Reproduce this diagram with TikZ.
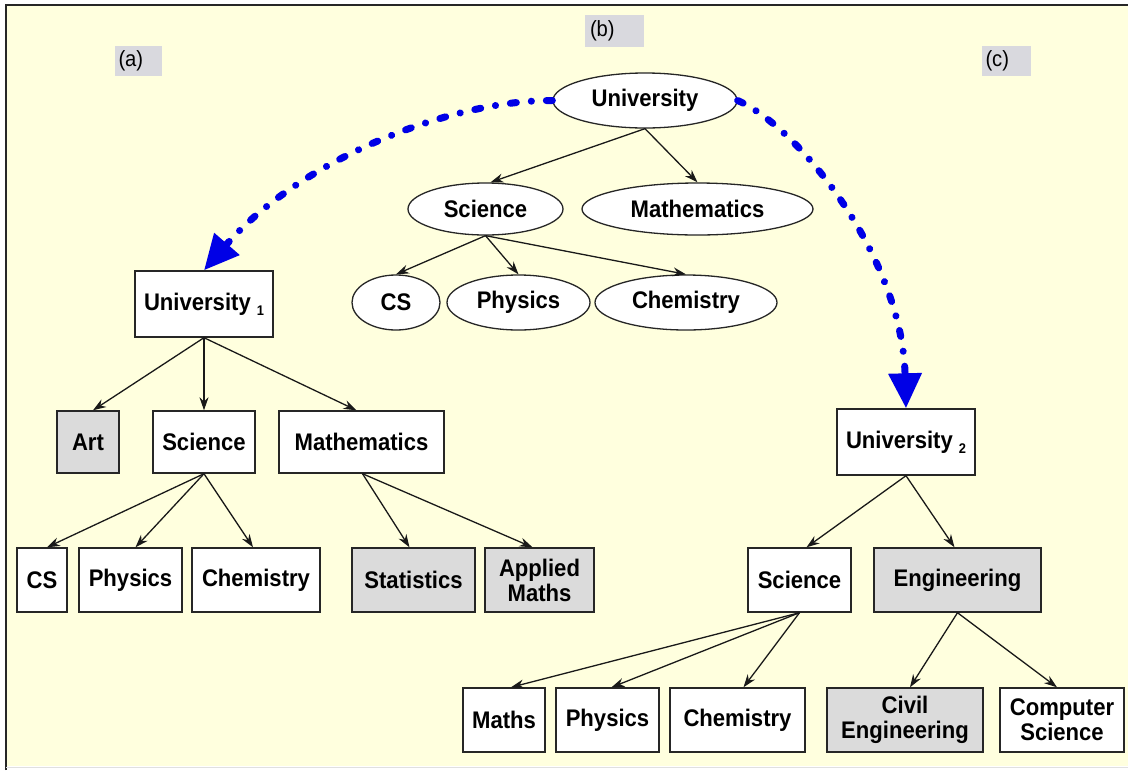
\documentclass[tikz,border=0pt]{standalone}
\usepackage{fontspec}
\setmainfont{Liberation Sans}[FakeStretch=0.92]
\usetikzlibrary{arrows.meta,shapes.geometric}
\definecolor{bgyellow}{RGB}{255,255,222}
\definecolor{shade}{RGB}{219,219,219}
\definecolor{lblgray}{RGB}{217,217,222}
\definecolor{arcblue}{RGB}{0,0,230}
\newcommand{\subidx}[1]{\hspace{6pt}\raisebox{-5pt}{\fontsize{14}{14}\selectfont #1}}
\tikzset{
  every node/.style={font=\fontsize{24}{25}\selectfont\bfseries},
  boxnode/.style={draw=black!85, line width=1.4pt, fill=white, inner sep=0pt, align=center},
  graybox/.style={boxnode, fill=shade},
  ellnode/.style={ellipse, draw=black!85, line width=1.3pt, fill=white, inner sep=0pt},
  lbl/.style={fill=lblgray, inner sep=0pt, font=\fontsize{22}{24}\selectfont, align=left},
  tree/.style={line width=1.3pt, draw=black!90, -{Stealth[length=13pt,width=9pt]}},
  bluearc/.style={draw=arcblue, line width=7pt, line cap=round,
    dash pattern=on 6pt off 15pt on 0.1pt off 15pt,
    -{Triangle[length=35pt,width=32pt]}}
}
\begin{document}
\begin{tikzpicture}[x=1pt,y=-1pt]
\useasboundingbox (0,0) rectangle (1128,772);
\fill[white] (0,0) rectangle (1128,772);
\fill[bgyellow] (6,5) rectangle (1128,766);
\draw[black!85, line width=2pt] (6,770) -- (6,5) -- (1128,5);
\draw[black!12, line width=1pt] (6,767) -- (1128,767);

% labels
\node[lbl, minimum width=59pt, minimum height=32pt, text width=49pt] (lb) at (614.5,31) {(b)};
\node[lbl, minimum width=47pt, minimum height=30pt, text width=40pt] (la) at (138.5,61) {(a)};
\node[lbl, minimum width=49pt, minimum height=30pt, text width=42pt] (lc) at (1006.5,61) {(c)};

% tree (b)
\node[ellnode, minimum width=184pt, minimum height=55pt] (bu) at (645,100.5) {University};
\node[ellnode, minimum width=155pt, minimum height=52pt] (bs) at (485.5,209) {Science};
\node[ellnode, minimum width=231pt, minimum height=52pt] (bm) at (697.5,209) {Mathematics};
\node[ellnode, minimum width=88pt, minimum height=55pt] (bcs) at (396,302.5) {CS};
\node[ellnode, minimum width=143pt, minimum height=55pt] (bph) at (518.5,302.5) {Physics};
\node[ellnode, minimum width=182pt, minimum height=55pt] (bch) at (686,302.5) {Chemistry};
\draw[tree] (bu.south) -- ([xshift=5pt]bs.north);
\draw[tree] (bu.south) -- (bm.north);
\draw[tree] (bs.south) -- (bcs.north);
\draw[tree] (bs.south) -- (bph.north);
\draw[tree] (bs.south) -- (bch.north);

% tree (a)
\node[boxnode, minimum width=138pt, minimum height=66pt] (au) at (204,304) {University\subidx{1}};
\node[graybox, minimum width=62pt, minimum height=62pt] (aart) at (88,442) {Art};
\node[boxnode, minimum width=102pt, minimum height=62pt] (asc) at (204,442) {Science};
\node[boxnode, minimum width=165pt, minimum height=62pt] (ama) at (361.5,442) {Mathematics};
\node[boxnode, minimum width=50pt, minimum height=64pt] (acs) at (42,580) {CS};
\node[boxnode, minimum width=103pt, minimum height=64pt] (aph) at (130.5,580) {Physics};
\node[boxnode, minimum width=128pt, minimum height=64pt] (ach) at (256,580) {Chemistry};
\node[graybox, minimum width=123pt, minimum height=64pt] (ast) at (413.5,580) {Statistics};
\node[graybox, minimum width=109pt, minimum height=64pt] (aap) at (539.5,580) {Applied\\Maths};
\draw[tree] (au.south) -- ([xshift=5pt]aart.north);
\draw[tree] (au.south) -- (asc.north);
\draw[tree] (au.south) -- ([xshift=-5pt]ama.north);
\draw[tree] (asc.south) -- ([xshift=5pt]acs.north);
\draw[tree] (asc.south) -- ([xshift=5pt]aph.north);
\draw[tree] (asc.south) -- ([xshift=-3pt]ach.north);
\draw[tree] ([xshift=1pt]ama.south) -- ([xshift=-4pt]ast.north);
\draw[tree] ([xshift=1pt]ama.south) -- ([xshift=-7pt]aap.north);

% tree (c)
\node[boxnode, minimum width=138pt, minimum height=66pt] (cu) at (906,442) {University\subidx{2}};
\node[boxnode, minimum width=103pt, minimum height=64pt] (csc) at (799.5,580) {Science};
\node[graybox, minimum width=167pt, minimum height=64pt] (cen) at (957.5,580) {Engineering};
\node[boxnode, minimum width=82pt, minimum height=64pt] (cma) at (504,720) {Maths};
\node[boxnode, minimum width=103pt, minimum height=64pt] (cph) at (607.5,720) {Physics};
\node[boxnode, minimum width=135pt, minimum height=64pt] (cch) at (737.5,720) {Chemistry};
\node[graybox, minimum width=156pt, minimum height=64pt] (cci) at (905,720) {Civil\\Engineering};
\node[boxnode, minimum width=124pt, minimum height=64pt] (ccs) at (1062,720) {Computer\\Science};
\draw[tree] (cu.south) -- ([xshift=7pt]csc.north);
\draw[tree] (cu.south) -- ([xshift=-3pt]cen.north);
\draw[tree] (csc.south) -- ([xshift=7pt]cma.north);
\draw[tree] (csc.south) -- ([xshift=4pt]cph.north);
\draw[tree] (csc.south) -- ([xshift=6pt]cch.north);
\draw[tree] (cen.south) -- ([xshift=5pt]cci.north);
\draw[tree] (cen.south) -- ([xshift=-5pt]ccs.north);

% blue mapping arcs
\draw[bluearc] (bu.west) .. controls (450,100) and (300,160) .. (au.north);
\draw[bluearc] (bu.east) .. controls (800,128) and (902,258) .. (cu.north);
\end{tikzpicture}
\end{document}
